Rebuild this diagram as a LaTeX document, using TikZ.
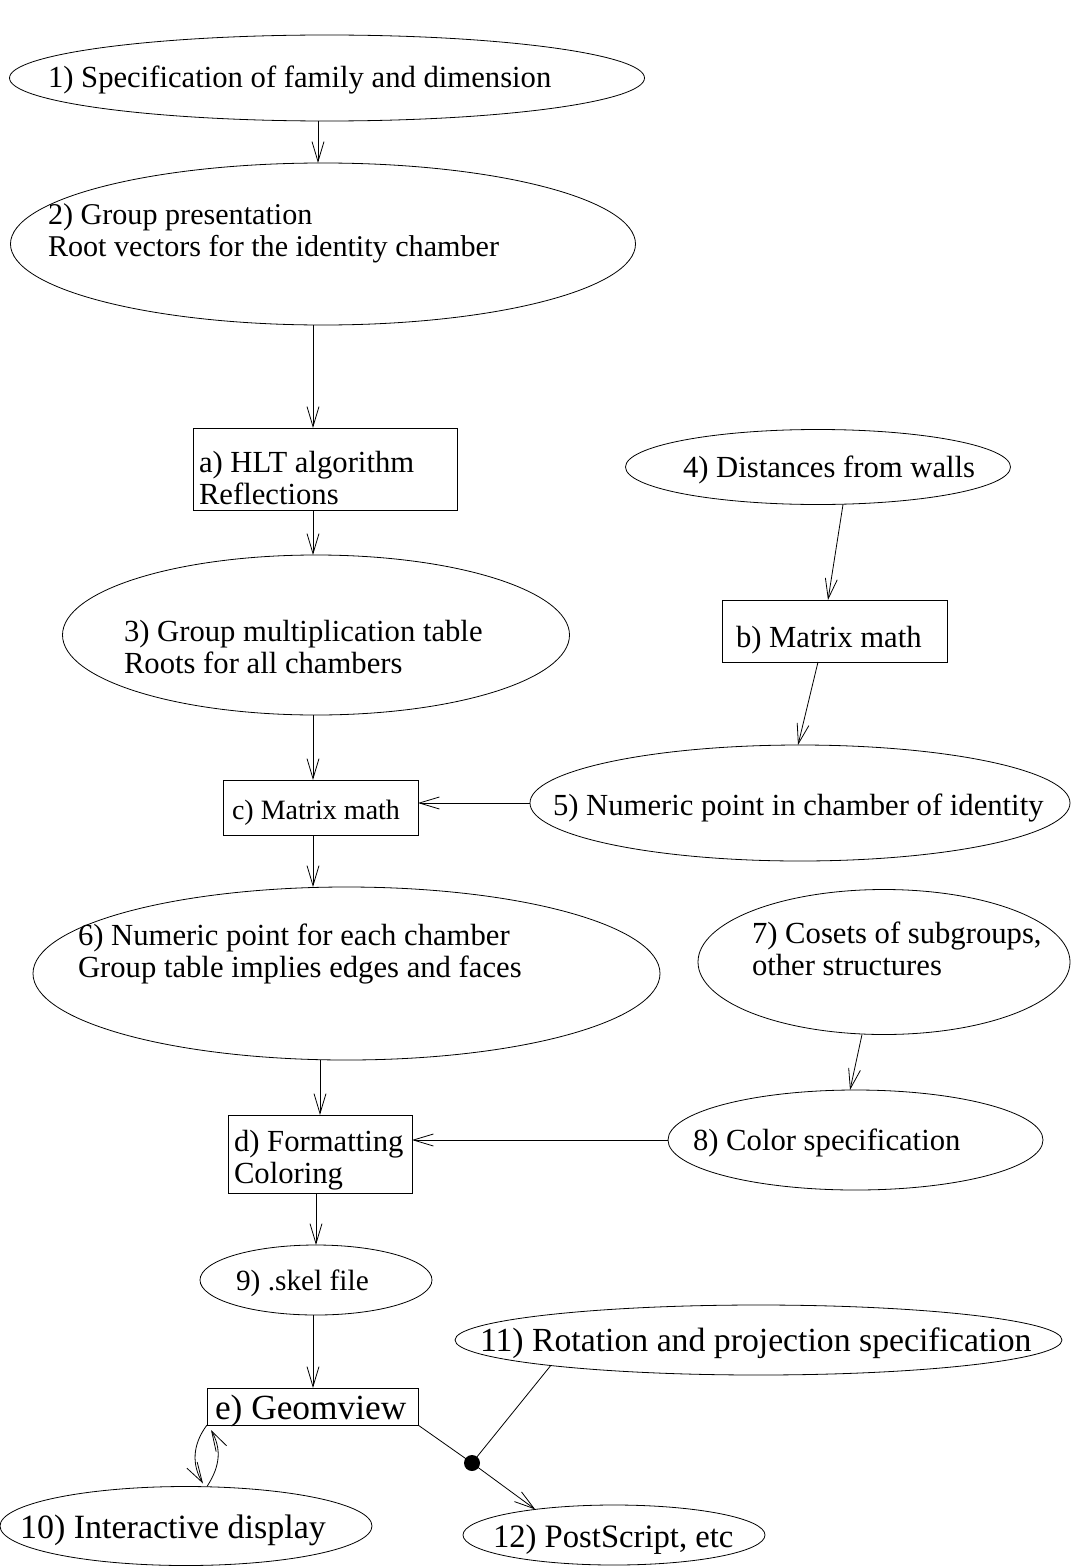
\documentclass[tikz,border=0pt]{standalone}
\usepackage{fontspec}
\setmainfont{Liberation Serif}
\usetikzlibrary{arrows.meta,shapes.geometric,calc}
\newcommand\pxu{0.75pt}
\begin{document}
\begin{tikzpicture}[x=0.75pt,y=-0.75pt,
  every node/.style={inner sep=0pt, outer sep=0pt},
  oval/.style={draw, ellipse, line width=0.6pt},
  boxnode/.style={draw, rectangle, line width=0.6pt},
  txt/.style={font=\fontsize{23}{24}\selectfont, align=left, anchor=base west},
  bigtxt/.style={font=\fontsize{26.5}{28}\selectfont, align=left, anchor=base west},
  arr/.style={-{Straight Barb[length=15pt,width=9pt]}, line width=0.6pt},
  conn/.style={line width=0.6pt}]
\useasboundingbox (0,0) rectangle (1073,1566);

% shapes
\node[oval, minimum width=635*\pxu, minimum height=86*\pxu] (n1) at (327,78) {};
\node[oval, minimum width=625*\pxu, minimum height=162*\pxu] (n2) at (323,244) {};
\node[boxnode, minimum width=264*\pxu, minimum height=82*\pxu] (a) at (325,469) {};
\node[oval, minimum width=507*\pxu, minimum height=160*\pxu] (n3) at (316,635) {};
\node[oval, minimum width=385*\pxu, minimum height=75*\pxu] (n4) at (818,467) {};
\node[boxnode, minimum width=225*\pxu, minimum height=62*\pxu] (b) at (834.5,631) {};
\node[oval, minimum width=540*\pxu, minimum height=116*\pxu] (n5) at (800,803) {};
\node[boxnode, minimum width=195*\pxu, minimum height=55*\pxu] (c) at (320.5,807.5) {};
\node[oval, minimum width=627*\pxu, minimum height=173*\pxu] (n6) at (346.5,973.5) {};
\node[oval, minimum width=372*\pxu, minimum height=145*\pxu] (n7) at (884,962) {};
\node[oval, minimum width=375*\pxu, minimum height=100*\pxu] (n8) at (855.5,1140) {};
\node[boxnode, minimum width=184*\pxu, minimum height=78*\pxu] (d) at (320,1154) {};
\node[oval, minimum width=232*\pxu, minimum height=70*\pxu] (n9) at (316,1280) {};
\node[boxnode, minimum width=211*\pxu, minimum height=37*\pxu] (e) at (312.5,1406.5) {};
\node[oval, minimum width=607*\pxu, minimum height=70*\pxu] (n11) at (758.5,1340) {};
\node[circle, fill=black, minimum size=16*\pxu] (dot) at (472,1463) {};
\node[oval, minimum width=302*\pxu, minimum height=60*\pxu] (n12) at (614,1535) {};
\node[oval, minimum width=372*\pxu, minimum height=79*\pxu] (n10) at (186,1526) {};

% texts (anchor = baseline of the last line)
\node[txt] (t1) at (48,88) {1) Specification of family and dimension};
\node[txt, font=\fontsize{22.6}{24}\selectfont] (t2) at (48,256) {2) Group presentation\\Root vectors for the identity chamber};
\node[txt] (ta) at (199,504) {a) HLT algorithm\\Reflections};
\node[txt] (t3) at (124,673) {3) Group multiplication table\\Roots for all chambers};
\node[txt] (t4) at (683,477) {4) Distances from walls};
\node[txt] (tb) at (736,647) {b) Matrix math};
\node[txt] (t5) at (553,815) {5) Numeric point in chamber of identity};
\node[txt, font=\fontsize{21}{24}\selectfont] (tc) at (232,819) {c) Matrix math};
\node[txt] (t6) at (78,977) {6) Numeric point for each chamber\\Group table implies edges and faces};
\node[txt] (t7) at (752,975) {7) Cosets of subgroups,\\other structures};
\node[txt] (t8) at (693,1150) {8) Color specification};
\node[txt] (td) at (234,1183) {d) Formatting\\Coloring};
\node[txt, font=\fontsize{22}{24}\selectfont] (t9) at (236,1290) {9) .skel file};
\node[bigtxt] (te) at (215,1419) {e) Geomview};
\node[txt, font=\fontsize{25.3}{26}\selectfont] (t11) at (480,1351) {11) Rotation and projection specification};
\node[txt, font=\fontsize{25.5}{26}\selectfont] (t10) at (20,1538) {10) Interactive display};
\node[txt, font=\fontsize{24.5}{26}\selectfont] (t12) at (493,1547) {12) PostScript, etc};

% connectors
\draw[arr] ($(n1.south)+(-9,0)$) -- ($(n2.north)+(-5,0)$);
\draw[arr] ($(n2.south)+(-10,0)$) -- ($(a.north)+(-12,0)$);
\draw[arr] ($(a.south)+(-12,0)$) -- ($(n3.north)+(-3,0)$);
\draw[arr] ($(n4.south)+(25,0)$) -- ($(b.north)+(-6.5,0)$);
\draw[arr] ($(b.south)+(-16.5,0)$) -- ($(n5.north)+(-2,0)$);
\draw[arr] (n5.west) -- (n5.west -| c.east);
\draw[arr] ($(n3.south)+(-3,0)$) -- ($(c.north)+(-7.5,0)$);
\draw[arr] ($(c.south)+(-7.5,0)$) -- ($(n6.north)+(-33.5,0)$);
\draw[arr] ($(n6.south)+(-26.5,0)$) -- (d.north);
\draw[arr] ($(n7.south)+(-22,0)$) -- ($(n8.north)+(-5.5,0)$);
\draw[arr] (n8.west) -- (n8.west -| d.east);
\draw[arr] ($(d.south)+(-4,0)$) -- (n9.north);
\draw[arr] ($(n9.south)+(-3,0)$) -- ($(e.north)+(0.5,0)$);
\draw[conn] (e.south east) -- (dot.center);
\draw[conn] (n11.187) -- (dot.center);
\draw[arr] (dot.center) -- (n12.162);
\draw[arr] (e.south west) .. controls (192,1445) and (192,1465) .. ($(n10.north)+(17,-3)$);
\draw[arr] ($(n10.north)+(21,0)$) .. controls (221,1465) and (221,1448) .. ($(e.south west)+(4,5)$);
\end{tikzpicture}
\end{document}
